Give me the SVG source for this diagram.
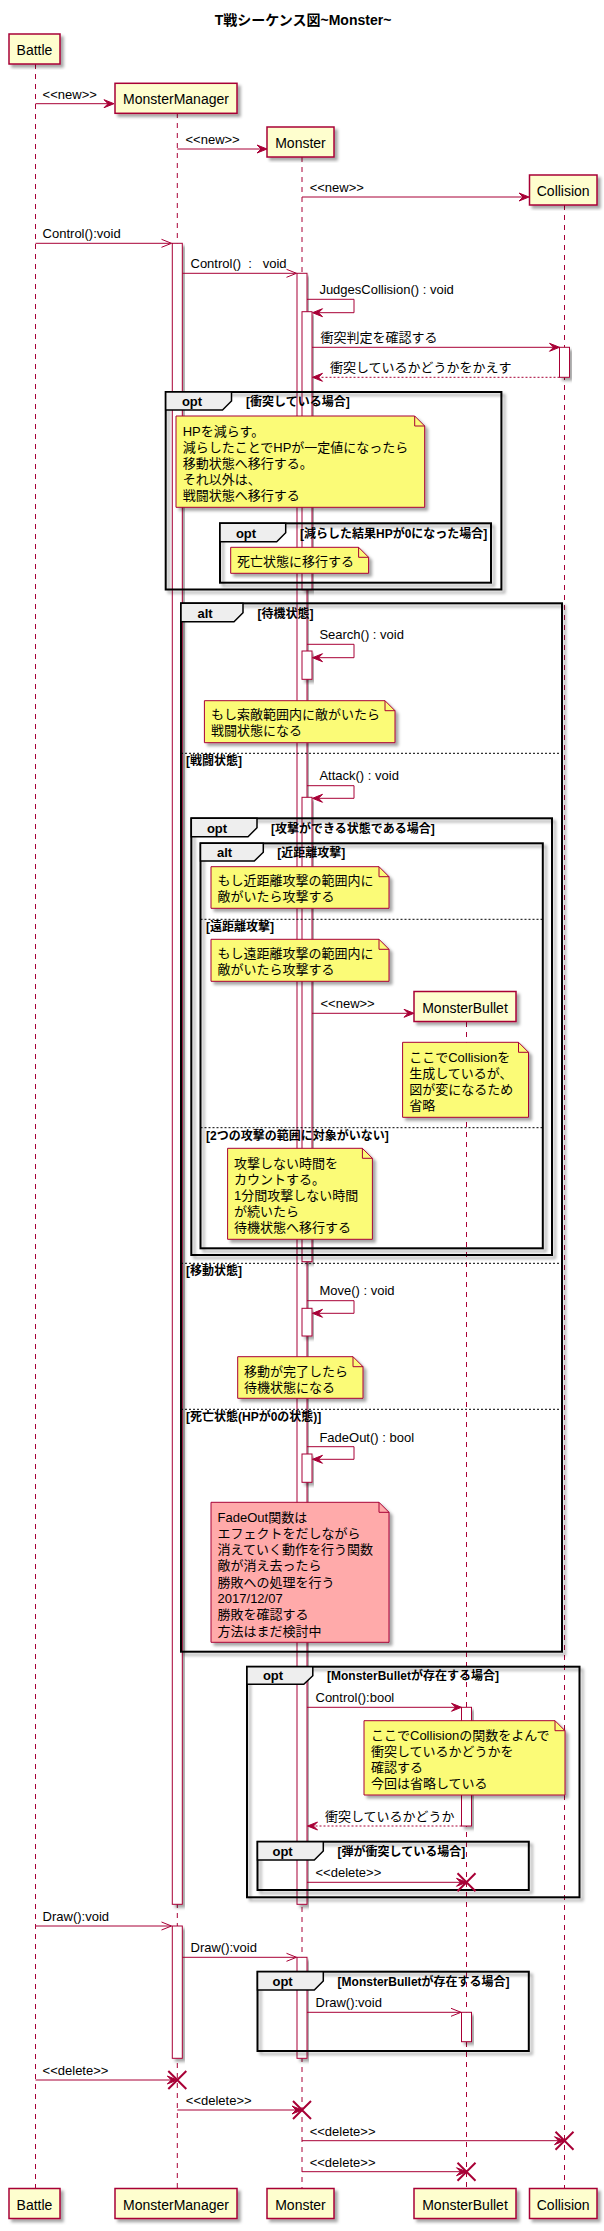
<svg xmlns="http://www.w3.org/2000/svg" width="604" height="2231" viewBox="0 0 604 2231">
<defs>
<filter id="sh" x="-10%" y="-10%" width="130%" height="130%"><feDropShadow dx="3" dy="3" stdDeviation="1.6" flood-color="#000" flood-opacity="0.35"/></filter>
</defs>
<style>
text{font-family:"Liberation Sans","Noto Sans CJK JP",sans-serif;fill:#000}
.m{font-size:13px}
.pn{font-size:14px;text-anchor:middle}
.ti{font-size:14px;font-weight:bold;text-anchor:middle}
.fk{font-size:13px;font-weight:bold;text-anchor:middle}
.gd{font-size:12px;font-weight:bold}
.pb{fill:#FEFECE;stroke:#A80036;stroke-width:1.5}
.ll{stroke:#A80036;stroke-width:1;stroke-dasharray:5,5;fill:none}
.ac{fill:#fff;stroke:#A80036;stroke-width:1}
.fr{fill:none;stroke:#000;stroke-width:2}
.tab{fill:#EEEEEE;stroke:#000;stroke-width:1.5}
.sep{stroke:#000;stroke-width:1;stroke-dasharray:2,2}
.nt{fill:#FBFB77;stroke:#A80036;stroke-width:1}
.np{fill:#FFAAAA;stroke:#A80036;stroke-width:1}
.fold{fill:none;stroke:#A80036;stroke-width:1}
.ln{stroke:#A80036;stroke-width:1;fill:none}
.rt{stroke:#A80036;stroke-width:1;stroke-dasharray:2,2;fill:none}
.ah{fill:#A80036;stroke:#A80036;stroke-width:1}
.x{stroke:#A80036;stroke-width:2}
</style>
<rect width="604" height="2231" fill="#fff"/>
<text class="ti" x="303" y="25">T戦シーケンス図~Monster~</text>

<g id="lifelines">
<line class="ll" x1="35.5" y1="64" x2="35.5" y2="2189"/>
<line class="ll" x1="177.3" y1="113" x2="177.3" y2="2189"/>
<line class="ll" x1="302" y1="157" x2="302" y2="2189"/>
<line class="ll" x1="466.5" y1="1022" x2="466.5" y2="2189"/>
<line class="ll" x1="564.5" y1="205" x2="564.5" y2="2189"/>
</g>

<g id="activations">
<rect class="ac" filter="url(#sh)" x="172.3" y="243.3" width="10" height="1661"/>
<rect class="ac" filter="url(#sh)" x="297" y="273.3" width="10" height="1631"/>
<rect class="ac" filter="url(#sh)" x="302" y="311.7" width="10" height="278"/>
<rect class="ac" filter="url(#sh)" x="559.5" y="347.3" width="10" height="30"/>
<rect class="ac" filter="url(#sh)" x="302" y="651" width="10" height="28.3"/>
<rect class="ac" filter="url(#sh)" x="302" y="797.3" width="10" height="464.4"/>
<rect class="ac" filter="url(#sh)" x="302" y="1308.3" width="10" height="27.7"/>
<rect class="ac" filter="url(#sh)" x="302" y="1454" width="10" height="28.3"/>
<rect class="ac" filter="url(#sh)" x="461.5" y="1707.3" width="10" height="118.7"/>
<rect class="ac" filter="url(#sh)" x="172.3" y="1926" width="10" height="132.3"/>
<rect class="ac" filter="url(#sh)" x="297" y="1957.3" width="10" height="101"/>
<rect class="ac" filter="url(#sh)" x="461.5" y="2012.3" width="10" height="29.4"/>
</g>

<g id="frames">
<g id="opt-collide">
<rect class="fr" filter="url(#sh)" x="165.7" y="392" width="335.7" height="197.5"/>
<polygon class="tab" points="165.7,392 231.5,392 231.5,401 222.5,410 165.7,410"/>
<text class="fk" x="192" y="406">opt</text>
<text class="gd" x="246" y="406">[衝突している場合]</text>
</g>
<g id="opt-hp0">
<rect class="fr" filter="url(#sh)" x="220" y="523.3" width="271" height="59.4"/>
<polygon class="tab" points="220,523.3 285.7,523.3 285.7,532.7 276.7,541.7 220,541.7"/>
<text class="fk" x="246" y="538">opt</text>
<text class="gd" x="300" y="538">[減らした結果HPが0になった場合]</text>
</g>
<g id="alt-state">
<rect class="fr" filter="url(#sh)" x="181" y="603.3" width="381" height="1048.4"/>
<polygon class="tab" points="181,603.3 243,603.3 243,612.7 234,621.7 181,621.7"/>
<text class="fk" x="205" y="617.5">alt</text>
<text class="gd" x="257.5" y="617.5">[待機状態]</text>
<line class="sep" x1="181" y1="753.3" x2="562" y2="753.3"/>
<text class="gd" x="186" y="764.5">[戦闘状態]</text>
<line class="sep" x1="181" y1="1263.3" x2="562" y2="1263.3"/>
<text class="gd" x="186" y="1274.5">[移動状態]</text>
<line class="sep" x1="181" y1="1409.3" x2="562" y2="1409.3"/>
<text class="gd" x="186" y="1421">[死亡状態(HPが0の状態)]</text>
</g>
<g id="opt-attack">
<rect class="fr" filter="url(#sh)" x="191.3" y="818.3" width="360.7" height="436.7"/>
<polygon class="tab" points="191.3,818.3 257,818.3 257,827.7 248,836.7 191.3,836.7"/>
<text class="fk" x="217" y="832.5">opt</text>
<text class="gd" x="271" y="832.5">[攻撃ができる状態である場合]</text>
</g>
<g id="alt-range">
<rect class="fr" filter="url(#sh)" x="200.5" y="843.3" width="342.3" height="405"/>
<polygon class="tab" points="200.5,843.3 263.3,843.3 263.3,852.3 254.3,861 200.5,861"/>
<text class="fk" x="224.5" y="857">alt</text>
<text class="gd" x="277.2" y="857">[近距離攻撃]</text>
<line class="sep" x1="200.5" y1="919.3" x2="542.8" y2="919.3"/>
<text class="gd" x="206" y="931">[遠距離攻撃]</text>
<line class="sep" x1="200.5" y1="1127.7" x2="542.8" y2="1127.7"/>
<text class="gd" x="206" y="1139.5">[2つの攻撃の範囲に対象がいない]</text>
</g>
<g id="opt-bullet-control">
<rect class="fr" filter="url(#sh)" x="247" y="1666.7" width="332.5" height="230.6"/>
<polygon class="tab" points="247,1666.7 312.8,1666.7 312.8,1675.7 303.8,1684.3 247,1684.3"/>
<text class="fk" x="273" y="1680">opt</text>
<text class="gd" x="327" y="1680">[MonsterBulletが存在する場合]</text>
</g>
<g id="opt-hit">
<rect class="fr" filter="url(#sh)" x="257.5" y="1841.7" width="271.3" height="48.3"/>
<polygon class="tab" points="257.5,1841.7 323.3,1841.7 323.3,1851 314.3,1860 257.5,1860"/>
<text class="fk" x="282.6" y="1856">opt</text>
<text class="gd" x="337.6" y="1856">[弾が衝突している場合]</text>
</g>
<g id="opt-bullet-draw">
<rect class="fr" filter="url(#sh)" x="257.5" y="1971.7" width="271.3" height="79.3"/>
<polygon class="tab" points="257.5,1971.7 323.3,1971.7 323.3,1981 314.3,1990 257.5,1990"/>
<text class="fk" x="282.6" y="1986">opt</text>
<text class="gd" x="337.6" y="1986">[MonsterBulletが存在する場合]</text>
</g>
</g>

<g id="participants">
<g id="p-battle">
<rect class="pb" filter="url(#sh)" x="9" y="34" width="51" height="30"/>
<text class="pn" x="34.5" y="55">Battle</text>
<rect class="pb" filter="url(#sh)" x="9" y="2188.5" width="51" height="30"/>
<text class="pn" x="34.5" y="2209.5">Battle</text>
</g>
<g id="p-monstermanager">
<rect class="pb" filter="url(#sh)" x="115" y="83.3" width="122" height="30"/>
<text class="pn" x="176" y="104">MonsterManager</text>
<rect class="pb" filter="url(#sh)" x="115" y="2188.5" width="122" height="30"/>
<text class="pn" x="176" y="2209.5">MonsterManager</text>
</g>
<g id="p-monster">
<rect class="pb" filter="url(#sh)" x="267" y="127" width="67" height="30"/>
<text class="pn" x="300.5" y="148">Monster</text>
<rect class="pb" filter="url(#sh)" x="267" y="2188.5" width="67" height="30"/>
<text class="pn" x="300.5" y="2209.5">Monster</text>
</g>
<g id="p-monsterbullet">
<rect class="pb" filter="url(#sh)" x="414" y="991.5" width="102" height="30"/>
<text class="pn" x="465" y="1012.5">MonsterBullet</text>
<rect class="pb" filter="url(#sh)" x="414" y="2188.5" width="102" height="30"/>
<text class="pn" x="465" y="2209.5">MonsterBullet</text>
</g>
<g id="p-collision">
<rect class="pb" filter="url(#sh)" x="529.5" y="175" width="67.5" height="30"/>
<text class="pn" x="563.2" y="196">Collision</text>
<rect class="pb" filter="url(#sh)" x="529.5" y="2188.5" width="67.5" height="30"/>
<text class="pn" x="563.2" y="2209.5">Collision</text>
</g>
</g>

<g id="notes">
<g id="note-hp">
<path class="nt" filter="url(#sh)" d="M176,416 L176,507.3 L424.7,507.3 L424.7,426 L414.7,416 Z"/>
<path class="fold" d="M414.7,416 L414.7,426 L424.7,426"/>
<text class="m" x="182.7" y="435.5">HPを減らす。</text>
<text class="m" x="182.7" y="451.7">減らしたことでHPが一定値になったら</text>
<text class="m" x="182.7" y="467.9">移動状態へ移行する。</text>
<text class="m" x="182.7" y="484.1">それ以外は、</text>
<text class="m" x="182.7" y="500.3">戦闘状態へ移行する</text>
</g>
<g id="note-dead">
<path class="nt" filter="url(#sh)" d="M230.7,547.3 L230.7,573.3 L368.6,573.3 L368.6,557.3 L358.6,547.3 Z"/>
<path class="fold" d="M358.6,547.3 L358.6,557.3 L368.6,557.3"/>
<text class="m" x="237" y="566">死亡状態に移行する</text>
</g>
<g id="note-search">
<path class="nt" filter="url(#sh)" d="M204.4,700.7 L204.4,742.7 L395,742.7 L395,710.7 L385,700.7 Z"/>
<path class="fold" d="M385,700.7 L385,710.7 L395,710.7"/>
<text class="m" x="211" y="718.5">もし索敵範囲内に敵がいたら</text>
<text class="m" x="211" y="734.7">戦闘状態になる</text>
</g>
<g id="note-near">
<path class="nt" filter="url(#sh)" d="M211,866.7 L211,908.3 L389,908.3 L389,876.7 L379,866.7 Z"/>
<path class="fold" d="M379,866.7 L379,876.7 L389,876.7"/>
<text class="m" x="217.6" y="885">もし近距離攻撃の範囲内に</text>
<text class="m" x="217.6" y="901.2">敵がいたら攻撃する</text>
</g>
<g id="note-far">
<path class="nt" filter="url(#sh)" d="M211,939.3 L211,981.3 L389,981.3 L389,949.3 L379,939.3 Z"/>
<path class="fold" d="M379,939.3 L379,949.3 L389,949.3"/>
<text class="m" x="217.6" y="957.8">もし遠距離攻撃の範囲内に</text>
<text class="m" x="217.6" y="974">敵がいたら攻撃する</text>
</g>
<g id="note-collision-omit">
<path class="nt" filter="url(#sh)" d="M402.6,1042.3 L402.6,1117.3 L528.5,1117.3 L528.5,1052.3 L518.5,1042.3 Z"/>
<path class="fold" d="M518.5,1042.3 L518.5,1052.3 L528.5,1052.3"/>
<text class="m" x="409.2" y="1061.5">ここでCollisionを</text>
<text class="m" x="409.2" y="1077.8">生成しているが、</text>
<text class="m" x="409.2" y="1094.1">図が変になるため</text>
<text class="m" x="409.2" y="1110.4">省略</text>
</g>
<g id="note-count">
<path class="nt" filter="url(#sh)" d="M227.6,1148.3 L227.6,1239.3 L372.4,1239.3 L372.4,1158.3 L362.4,1148.3 Z"/>
<path class="fold" d="M362.4,1148.3 L362.4,1158.3 L372.4,1158.3"/>
<text class="m" x="234" y="1167.5">攻撃しない時間を</text>
<text class="m" x="234" y="1183.7">カウントする。</text>
<text class="m" x="234" y="1199.9">1分間攻撃しない時間</text>
<text class="m" x="234" y="1216.1">が続いたら</text>
<text class="m" x="234" y="1232.3">待機状態へ移行する</text>
</g>
<g id="note-move">
<path class="nt" filter="url(#sh)" d="M237.7,1356.7 L237.7,1398.3 L363,1398.3 L363,1366.7 L353,1356.7 Z"/>
<path class="fold" d="M353,1356.7 L353,1366.7 L363,1366.7"/>
<text class="m" x="244" y="1375.5">移動が完了したら</text>
<text class="m" x="244" y="1391.7">待機状態になる</text>
</g>
<g id="note-fadeout">
<path class="np" filter="url(#sh)" d="M211,1502.3 L211,1642.3 L389,1642.3 L389,1512.3 L379,1502.3 Z"/>
<path class="fold" d="M379,1502.3 L379,1512.3 L389,1512.3"/>
<text class="m" x="217.6" y="1521.5">FadeOut関数は</text>
<text class="m" x="217.6" y="1537.8">エフェクトをだしながら</text>
<text class="m" x="217.6" y="1554.1">消えていく動作を行う関数</text>
<text class="m" x="217.6" y="1570.4">敵が消え去ったら</text>
<text class="m" x="217.6" y="1586.7">勝敗への処理を行う</text>
<text class="m" x="217.6" y="1603">2017/12/07</text>
<text class="m" x="217.6" y="1619.3">勝敗を確認する</text>
<text class="m" x="217.6" y="1635.6">方法はまだ検討中</text>
</g>
<g id="note-bullet-collision">
<path class="nt" filter="url(#sh)" d="M364,1720.7 L364,1795 L565,1795 L565,1730.7 L555,1720.7 Z"/>
<path class="fold" d="M555,1720.7 L555,1730.7 L565,1730.7"/>
<text class="m" x="371" y="1739.5">ここでCollisionの関数をよんで</text>
<text class="m" x="371" y="1755.8">衝突しているかどうかを</text>
<text class="m" x="371" y="1772.1">確認する</text>
<text class="m" x="371" y="1788.4">今回は省略している</text>
</g>
</g>

<g id="connectors">
<line class="ln" x1="35.5" y1="103.7" x2="112" y2="103.7"/>
<polygon class="ah" points="114,103.7 104,99.7 108,103.7 104,107.7"/>
<text class="m" x="42.6" y="99">&lt;&lt;new&gt;&gt;</text>

<line class="ln" x1="177.3" y1="149" x2="265" y2="149"/>
<polygon class="ah" points="267,149 257,145 261,149 257,153"/>
<text class="m" x="185.5" y="144">&lt;&lt;new&gt;&gt;</text>

<line class="ln" x1="302" y1="197" x2="527" y2="197"/>
<polygon class="ah" points="529,197 519,193 523,197 519,201"/>
<text class="m" x="309.7" y="192">&lt;&lt;new&gt;&gt;</text>

<line class="ln" x1="35.5" y1="243.3" x2="171.5" y2="243.3"/>
<polyline class="ln" points="161.5,239.3 171.5,243.3 161.5,247.3"/>
<text class="m" x="42.6" y="238.3">Control():void</text>

<line class="ln" x1="182.3" y1="273.3" x2="296.5" y2="273.3"/>
<polyline class="ln" points="286.5,269.3 296.5,273.3 286.5,277.3"/>
<text class="m" x="190.5" y="268.3" xml:space="preserve">Control()  :   void</text>

<polyline class="ln" points="307,299.3 354,299.3 354,312.7 314,312.7"/>
<polygon class="ah" points="312.5,312.7 322.5,308.7 318.5,312.7 322.5,316.7"/>
<text class="m" x="319.4" y="293.5">JudgesCollision() : void</text>

<line class="ln" x1="312" y1="347.3" x2="557.5" y2="347.3"/>
<polygon class="ah" points="559.5,347.3 549.5,343.3 553.5,347.3 549.5,351.3"/>
<text class="m" x="320.5" y="342">衝突判定を確認する</text>

<line class="rt" x1="559.5" y1="377.3" x2="314" y2="377.3"/>
<polygon class="ah" points="312.5,377.3 322.5,373.3 318.5,377.3 322.5,381.3"/>
<text class="m" x="330" y="372">衝突しているかどうかをかえす</text>

<polyline class="ln" points="307,644.3 354,644.3 354,657.7 314,657.7"/>
<polygon class="ah" points="312.5,657.7 322.5,653.7 318.5,657.7 322.5,661.7"/>
<text class="m" x="319.4" y="638.5">Search() : void</text>

<polyline class="ln" points="307,785.7 354,785.7 354,798.3 314,798.3"/>
<polygon class="ah" points="312.5,798.3 322.5,794.3 318.5,798.3 322.5,802.3"/>
<text class="m" x="319.4" y="780">Attack() : void</text>

<line class="ln" x1="312" y1="1013.3" x2="412" y2="1013.3"/>
<polygon class="ah" points="414,1013.3 404,1009.3 408,1013.3 404,1017.3"/>
<text class="m" x="320.5" y="1008">&lt;&lt;new&gt;&gt;</text>

<polyline class="ln" points="307,1300.7 354,1300.7 354,1313.3 314,1313.3"/>
<polygon class="ah" points="312.5,1313.3 322.5,1309.3 318.5,1313.3 322.5,1317.3"/>
<text class="m" x="319.4" y="1295">Move() : void</text>

<polyline class="ln" points="307,1446.7 354,1446.7 354,1459.3 314,1459.3"/>
<polygon class="ah" points="312.5,1459.3 322.5,1455.3 318.5,1459.3 322.5,1463.3"/>
<text class="m" x="319.4" y="1441.5">FadeOut() : bool</text>

<line class="ln" x1="307" y1="1707.3" x2="459.5" y2="1707.3"/>
<polygon class="ah" points="461.5,1707.3 451.5,1703.3 455.5,1707.3 451.5,1711.3"/>
<text class="m" x="315.5" y="1702">Control():bool</text>

<line class="rt" x1="461.5" y1="1826" x2="309" y2="1826"/>
<polygon class="ah" points="307.5,1826 317.5,1822 313.5,1826 317.5,1830"/>
<text class="m" x="325" y="1821">衝突しているかどうか</text>

<line class="ln" x1="307" y1="1882.3" x2="464.5" y2="1882.3"/>
<polygon class="ah" points="466.5,1882.3 456.5,1878.3 460.5,1882.3 456.5,1886.3"/>
<path class="x" d="M457.5,1873.3 L475.5,1891.3 M475.5,1873.3 L457.5,1891.3"/>
<text class="m" x="315.5" y="1877">&lt;&lt;delete&gt;&gt;</text>

<line class="ln" x1="35.5" y1="1926" x2="171.5" y2="1926"/>
<polyline class="ln" points="161.5,1922 171.5,1926 161.5,1930"/>
<text class="m" x="42.6" y="1921">Draw():void</text>

<line class="ln" x1="182.3" y1="1957.3" x2="296.5" y2="1957.3"/>
<polyline class="ln" points="286.5,1953.3 296.5,1957.3 286.5,1961.3"/>
<text class="m" x="190.5" y="1952.3">Draw():void</text>

<line class="ln" x1="307" y1="2012.3" x2="461" y2="2012.3"/>
<polyline class="ln" points="451,2008.3 461,2012.3 451,2016.3"/>
<text class="m" x="315.5" y="2007.3">Draw():void</text>

<line class="ln" x1="35.5" y1="2080" x2="175.3" y2="2080"/>
<polygon class="ah" points="177.3,2080 167.3,2076 171.3,2080 167.3,2084"/>
<path class="x" d="M168.3,2071 L186.3,2089 M186.3,2071 L168.3,2089"/>
<text class="m" x="42.6" y="2075">&lt;&lt;delete&gt;&gt;</text>

<line class="ln" x1="177.3" y1="2110" x2="300" y2="2110"/>
<polygon class="ah" points="302,2110 292,2106 296,2110 292,2114"/>
<path class="x" d="M293,2101 L311,2119 M311,2101 L293,2119"/>
<text class="m" x="185.8" y="2105">&lt;&lt;delete&gt;&gt;</text>

<line class="ln" x1="302" y1="2140.7" x2="562.5" y2="2140.7"/>
<polygon class="ah" points="564.5,2140.7 554.5,2136.7 558.5,2140.7 554.5,2144.7"/>
<path class="x" d="M555.5,2131.7 L573.5,2149.7 M573.5,2131.7 L555.5,2149.7"/>
<text class="m" x="309.7" y="2135.5">&lt;&lt;delete&gt;&gt;</text>

<line class="ln" x1="302" y1="2171.7" x2="464.5" y2="2171.7"/>
<polygon class="ah" points="466.5,2171.7 456.5,2167.7 460.5,2171.7 456.5,2175.7"/>
<path class="x" d="M457.5,2162.7 L475.5,2180.7 M475.5,2162.7 L457.5,2180.7"/>
<text class="m" x="309.7" y="2166.5">&lt;&lt;delete&gt;&gt;</text>
</g>
</svg>
